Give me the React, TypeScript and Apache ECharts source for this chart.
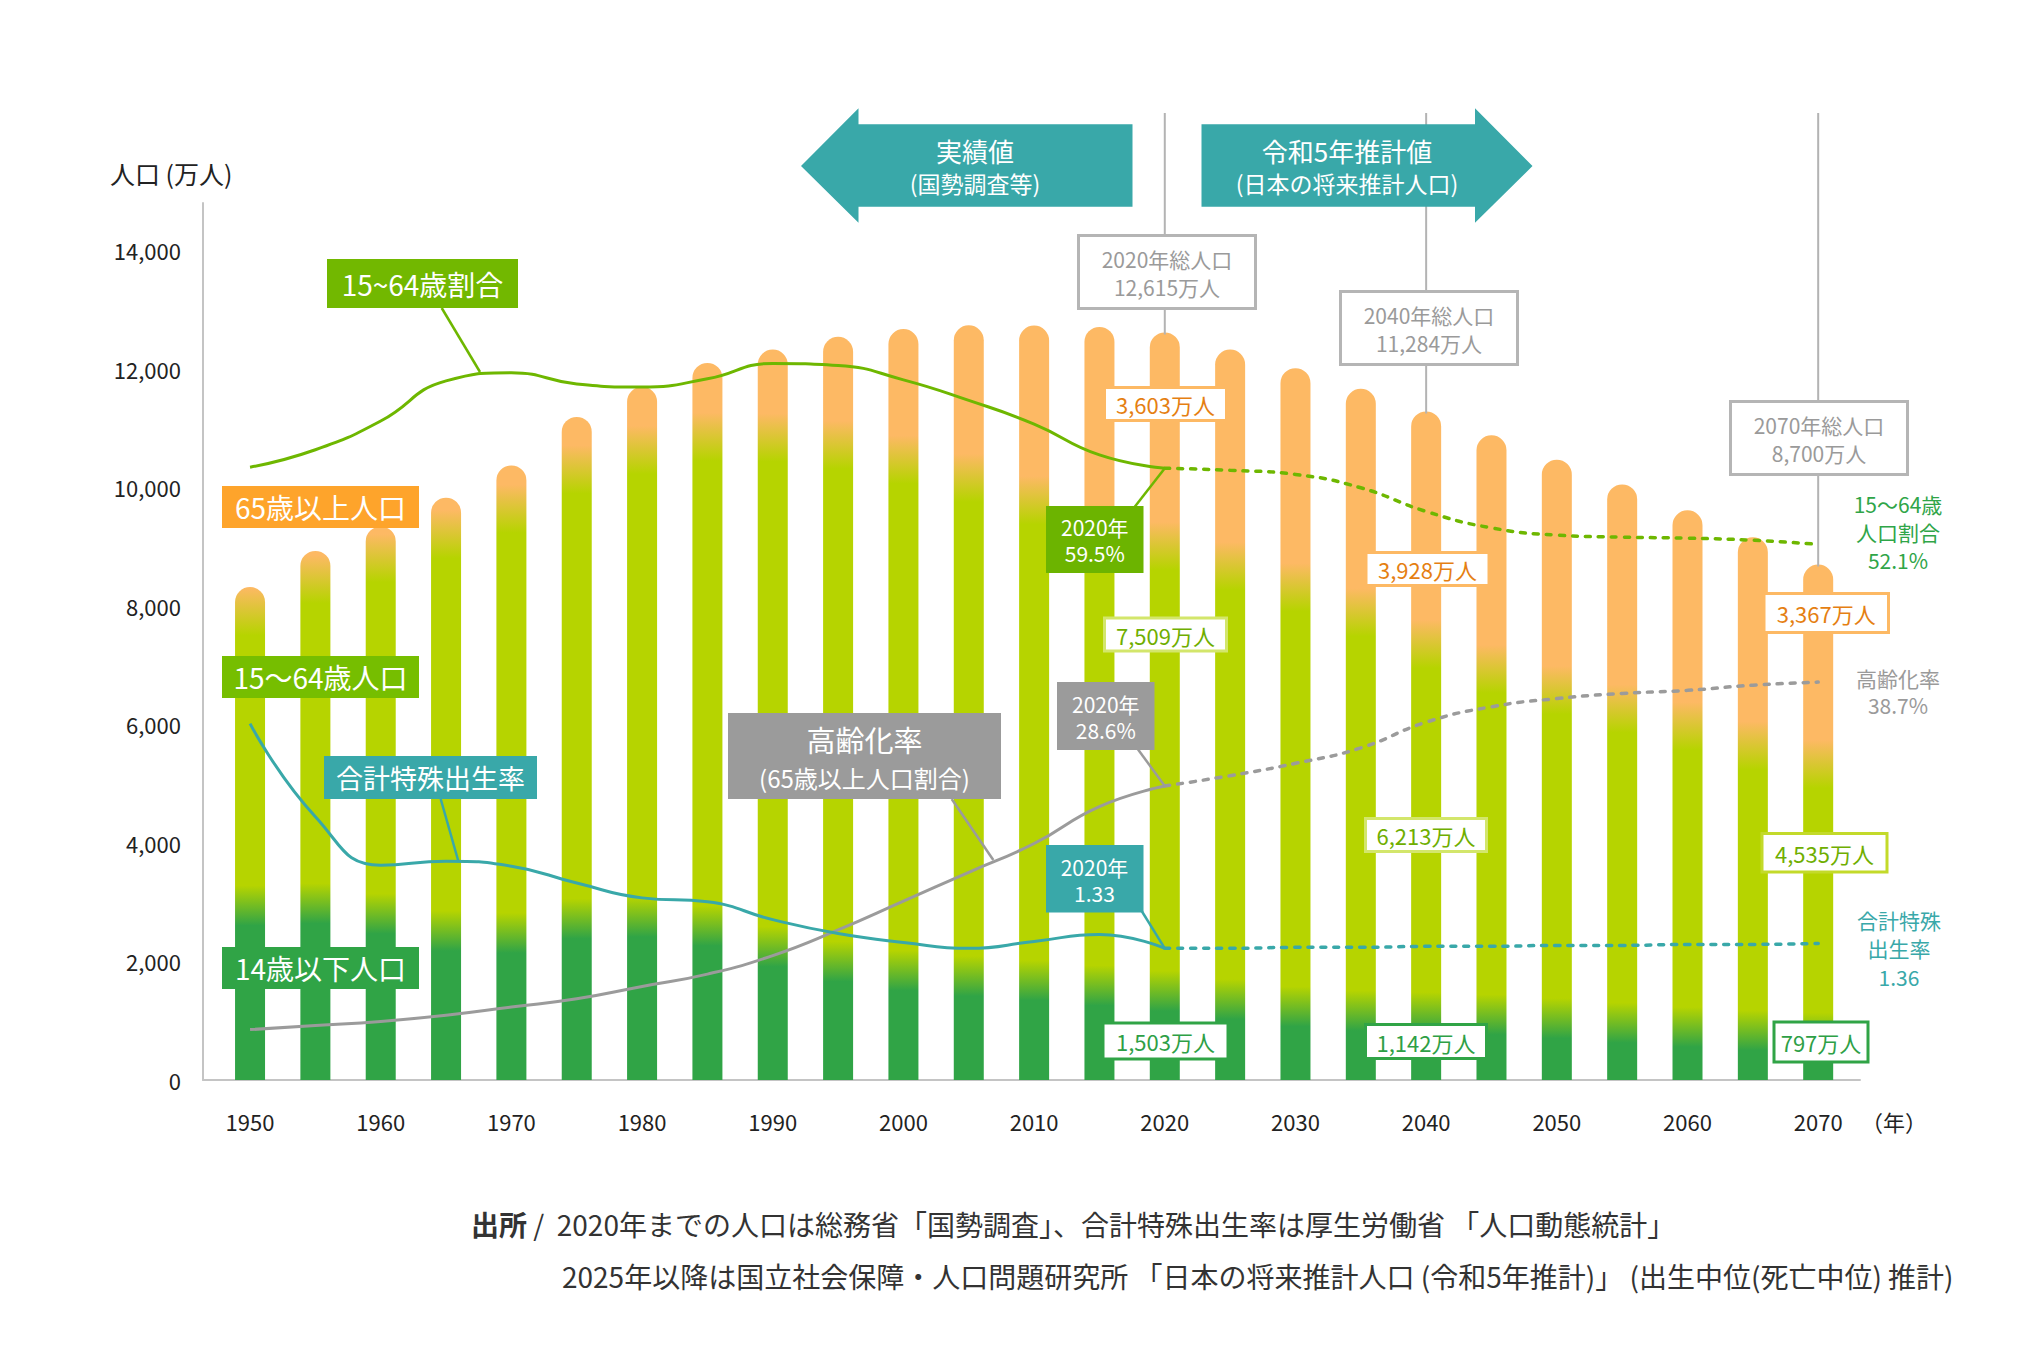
import React, { useEffect, useRef } from "react";
import * as echarts from "echarts";

// ---------- data ----------
const years = [1950, 1955, 1960, 1965, 1970, 1975, 1980, 1985, 1990, 1995, 2000, 2005, 2010, 2015, 2020,
  2025, 2030, 2035, 2040, 2045, 2050, 2055, 2060, 2065, 2070];
const pop0to14 = [2943, 2980, 2807, 2517, 2482, 2722, 2751, 2603, 2249, 2001, 1847, 1752, 1680, 1595, 1503,
  1363, 1240, 1169, 1142, 1103, 1041, 966, 893, 836, 797];
const pop15to64 = [4966, 5473, 6000, 6692, 7157, 7581, 7883, 8251, 8590, 8716, 8622, 8409, 8103, 7735, 7509,
  7310, 7076, 6722, 6213, 5832, 5540, 5302, 5078, 4809, 4535];
const pop65over = [411, 475, 535, 618, 733, 887, 1065, 1247, 1489, 1826, 2204, 2576, 2948, 3379, 3603,
  3653, 3696, 3773, 3928, 3945, 3888, 3783, 3644, 3513, 3367];

const actualYears = [1950, 1955, 1960, 1965, 1970, 1975, 1980, 1985, 1990, 1995, 2000, 2005, 2010, 2015, 2020];
const projYears = [2020, 2025, 2030, 2035, 2040, 2045, 2050, 2055, 2060, 2065, 2070];

const workingRatioActual = [59.6, 61.3, 64.1, 68.0, 68.8, 67.7, 67.4, 68.2, 69.7, 69.5, 68.1, 66.1, 63.8, 60.8, 59.5];
const workingRatioProj = [59.5, 59.3, 58.9, 57.6, 55.3, 53.7, 53.0, 52.8, 52.7, 52.5, 52.1];
const agingRateActual = [4.9, 5.3, 5.7, 6.3, 7.1, 7.9, 9.1, 10.3, 12.1, 14.6, 17.4, 20.2, 23.0, 26.6, 28.6];
const agingRateProj = [28.6, 29.6, 30.8, 32.3, 34.8, 36.3, 37.1, 37.6, 37.9, 38.4, 38.7];
const fertilityActual = [3.60, 2.66, 2.17, 2.21, 2.16, 1.99, 1.84, 1.80, 1.62, 1.48, 1.39, 1.33, 1.40, 1.47, 1.33];
const fertilityProj = [1.33, 1.33, 1.34, 1.34, 1.35, 1.35, 1.36, 1.36, 1.37, 1.37, 1.38];

const yTicks = [0, 2000, 4000, 6000, 8000, 10000, 12000, 14000];
const xTickYears = [1950, 1960, 1970, 1980, 1990, 2000, 2010, 2020, 2030, 2040, 2050, 2060, 2070];

// ---------- styles ----------
const F = "'Noto Sans CJK JP', 'Noto Sans', sans-serif";
const ORANGE = "#fdb964";
const LIME = "#b6d400";
const DGREEN = "#30a446";
const LINE_GREEN = "#6eb700";
const GRAY = "#9b9b9b";
const TEAL = "#39a8a9";

function txt(x: number, y: number, text: string, size: number, fill: string, extra: any = {}) {
  return {
    type: "text", x, y, z: 120,
    style: { text, fill, fontSize: size, fontFamily: F, align: "center", verticalAlign: "middle", ...extra },
  };
}
function box(x: number, y: number, w: number, h: number, fill: string, stroke?: string, lw = 3) {
  return {
    type: "rect", z: 110,
    shape: { x, y, width: w, height: h },
    style: { fill, stroke: stroke || null, lineWidth: stroke ? lw : 0 },
  };
}
function seg(x1: number, y1: number, x2: number, y2: number, color: string, w = 2.5, z = 105) {
  return { type: "line", z, shape: { x1, y1, x2, y2 }, style: { stroke: color, lineWidth: w } };
}

export default function App() {
  const ref = useRef<HTMLDivElement>(null);

  useEffect(() => {
    const chart = echarts.init(ref.current!, null, { renderer: "svg" });

    const barData = years.map((y, i) => [y, pop0to14[i], pop15to64[i], pop65over[i]]);
    const dotted = [5, 8];

    chart.setOption({
      animation: false,
      backgroundColor: "#ffffff",
      grid: { left: 203, right: 181, top: 203, bottom: 281, containLabel: false, outerBoundsMode: "none" },
      xAxis: {
        type: "value",
        min: 1946.4,
        max: 2073.2,
        axisLine: { show: true, onZero: false, lineStyle: { color: "#c4c4c4", width: 2 } },
        axisTick: { show: false },
        splitLine: { show: false },
        axisLabel: {
          customValues: xTickYears,
          color: "#222", fontSize: 22, fontFamily: F, margin: 30,
          formatter: (v: number) => String(v),
        },
      },
      yAxis: [
        {
          type: "value", min: 0, max: 14800, interval: 2000,
          axisLine: { show: true, onZero: false, lineStyle: { color: "#c4c4c4", width: 2 } },
          axisTick: { show: false },
          splitLine: { show: false },
          axisLabel: {
            customValues: yTicks,
            color: "#222", fontSize: 22, fontFamily: F, margin: 22,
            formatter: (v: number) => (v % 2000 === 0 ? v.toLocaleString("en-US") : ""),
          },
        },
        { type: "value", min: 0, max: 85.3, show: false, splitLine: { show: false } },
        { type: "value", min: 0, max: 8.86, show: false, splitLine: { show: false } },
      ],
      series: [
        {
          type: "custom",
          z: 2,
          data: barData,
          encode: { x: 0, y: 1 },
          renderItem: (params: any, api: any) => {
            const yr = api.value(0);
            const c = api.value(1), w = api.value(2), o = api.value(3);
            const base = api.coord([yr, 0]);
            const top = api.coord([yr, c + w + o]);
            const yCW = api.coord([yr, c])[1];
            const yWO = api.coord([yr, c + w])[1];
            const h = base[1] - top[1];
            const bw = 30;
            const f = (y: number) => Math.min(1, Math.max(0, (y - top[1]) / h));
            const d1 = 24, d2 = 20;
            const stops = [
              { offset: 0, color: ORANGE },
              { offset: f(yWO - d1), color: ORANGE },
              { offset: f(yWO + d1), color: LIME },
              { offset: f(yCW - d2), color: LIME },
              { offset: f(yCW + d2), color: DGREEN },
              { offset: 1, color: DGREEN },
            ];
            return {
              type: "rect",
              shape: { x: base[0] - bw / 2, y: top[1], width: bw, height: h, r: [bw / 2, bw / 2, 0, 0] },
              style: { fill: new echarts.graphic.LinearGradient(0, 0, 0, 1, stops) },
            };
          },
        },
        {
          type: "line", yAxisIndex: 1, z: 5, smooth: 0.5, showSymbol: false, silent: true,
          data: actualYears.map((y, i) => [y, workingRatioActual[i]]),
          lineStyle: { color: LINE_GREEN, width: 3 },
        },
        {
          type: "line", yAxisIndex: 1, z: 5, smooth: 0.5, showSymbol: false, silent: true,
          data: projYears.map((y, i) => [y, workingRatioProj[i]]),
          lineStyle: { color: LINE_GREEN, width: 3.5, type: dotted, cap: "round" },
        },
        {
          type: "line", yAxisIndex: 1, z: 5, smooth: 0.5, showSymbol: false, silent: true,
          data: actualYears.map((y, i) => [y, agingRateActual[i]]),
          lineStyle: { color: GRAY, width: 3 },
        },
        {
          type: "line", yAxisIndex: 1, z: 5, smooth: 0.5, showSymbol: false, silent: true,
          data: projYears.map((y, i) => [y, agingRateProj[i]]),
          lineStyle: { color: GRAY, width: 3.5, type: dotted, cap: "round" },
        },
        {
          type: "line", yAxisIndex: 2, z: 5, smooth: 0.5, showSymbol: false, silent: true,
          data: actualYears.map((y, i) => [y, fertilityActual[i]]),
          lineStyle: { color: TEAL, width: 3 },
        },
        {
          type: "line", yAxisIndex: 2, z: 5, smooth: 0.5, showSymbol: false, silent: true,
          data: projYears.map((y, i) => [y, fertilityProj[i]]),
          lineStyle: { color: TEAL, width: 3.5, type: dotted, cap: "round" },
        },
      ],
    });

    // pixel anchors derived from the chart's own scales
    const totalOf = (yr: number) => {
      const i = years.indexOf(yr);
      return pop0to14[i] + pop15to64[i] + pop65over[i];
    };
    const barTop = (yr: number) => chart.convertToPixel({ seriesIndex: 0 }, [yr, totalOf(yr)]) as number[];
    const pW = chart.convertToPixel({ seriesIndex: 1 }, [2020, workingRatioActual[14]]) as number[];
    const pA = chart.convertToPixel({ seriesIndex: 3 }, [2020, agingRateActual[14]]) as number[];
    const pT = chart.convertToPixel({ seriesIndex: 5 }, [2020, fertilityActual[14]]) as number[];

    const g: any[] = [];
    // vertical guide lines
    [2020, 2040, 2070].forEach((yr) => {
      const p = barTop(yr);
      g.push(seg(p[0], 113, p[0], p[1] + 2, "#b3b3b3", 2, 60));
    });

    // top arrows
    g.push({
      type: "polygon", z: 100,
      shape: { points: [[801, 166], [858.5, 108.3], [858.5, 124.3], [1132.5, 124.3], [1132.5, 206.7], [858.5, 206.7], [858.5, 222.7]] },
      style: { fill: TEAL },
    });
    g.push({
      type: "polygon", z: 100,
      shape: { points: [[1201.5, 124.3], [1475, 124.3], [1475, 108.3], [1532.5, 166], [1475, 222.7], [1475, 206.7], [1201.5, 206.7]] },
      style: { fill: TEAL },
    });
    g.push(txt(975, 150, "実績値", 26, "#fff"));
    g.push(txt(975, 183, "(国勢調査等)", 23, "#fff"));
    g.push(txt(1347, 150, "令和5年推計値", 26, "#fff"));
    g.push(txt(1347, 183, "(日本の将来推計人口)", 23, "#fff"));

    // total population boxes
    const totBox = (x: number, y: number, cx: number, l1: string, l2: string) => {
      g.push(box(x, y, 177, 73, "#fff", "#b5b5b5", 3));
      g.push(txt(cx, y + 23, l1, 21, "#9a9a9a"));
      g.push(txt(cx, y + 51, l2, 21, "#9a9a9a"));
    };
    totBox(1078.5, 235.5, 1167, "2020年総人口", "12,615万人");
    totBox(1340.5, 291.5, 1429, "2040年総人口", "11,284万人");
    totBox(1730.5, 401.5, 1819, "2070年総人口", "8,700万人");

    // value boxes
    const valBox = (x: number, y: number, w: number, h: number, text: string, stroke: string, color: string) => {
      g.push(box(x, y, w, h, "#fff", stroke, 3));
      g.push(txt(x + w / 2, y + h / 2, text, 22, color));
    };
    const OT = "#e57f12", LT = "#6fae00", GT = "#2e9f46";
    valBox(1104.5, 387.5, 122, 33, "3,603万人", ORANGE, OT);
    valBox(1104.5, 618, 122, 33, "7,509万人", "#d3e66b", LT);
    valBox(1103, 1023, 125, 36, "1,503万人", DGREEN, GT);
    valBox(1366, 552.5, 123, 33, "3,928万人", ORANGE, OT);
    valBox(1365.5, 818.5, 121, 33, "6,213万人", "#d3e66b", LT);
    valBox(1365.5, 1024.5, 121, 34, "1,142万人", DGREEN, GT);
    valBox(1764, 593.5, 124.5, 39, "3,367万人", ORANGE, OT);
    valBox(1762, 833.5, 125, 38.5, "4,535万人", "#c3da2a", LT);
    valBox(1774, 1022, 94, 40, "797万人", DGREEN, GT);

    // category labels
    g.push(seg(441.7, 308, 480, 372, LINE_GREEN));
    g.push(box(327, 259, 191, 49, "#72b800"));
    g.push(txt(422.5, 284, "15~64歳割合", 28, "#fff"));
    g.push(box(222, 486, 197, 42, "#fea42b"));
    g.push(txt(320.5, 507, "65歳以上人口", 28, "#fff"));
    g.push(box(222, 656, 197, 42, "#76be00"));
    g.push(txt(320.5, 677, "15〜64歳人口", 28, "#fff"));
    g.push(box(222, 947, 197, 42, DGREEN));
    g.push(txt(320.5, 968, "14歳以下人口", 28, "#fff"));
    g.push(seg(440.7, 799, 458.3, 861, TEAL));
    g.push(box(324, 756, 213, 43, TEAL));
    g.push(txt(430.5, 777.5, "合計特殊出生率", 27, "#fff"));
    g.push(seg(951.7, 799, 993.3, 860, GRAY));
    g.push(box(728, 713, 273, 86, GRAY));
    g.push(txt(864.5, 739, "高齢化率", 29, "#fff"));
    g.push(txt(864.5, 777, "(65歳以上人口割合)", 24, "#fff"));

    // 2020 callouts
    g.push(seg(1134.6, 507, pW[0], pW[1], LINE_GREEN));
    g.push(box(1046, 506, 97.5, 67, "#6cb400"));
    g.push(txt(1094.8, 527, "2020年", 21, "#fff"));
    g.push(txt(1094.8, 553, "59.5%", 21, "#fff"));
    g.push(seg(1137.7, 749, pA[0], pA[1], GRAY));
    g.push(box(1057, 682, 97.5, 68, GRAY));
    g.push(txt(1105.8, 703.5, "2020年", 21, "#fff"));
    g.push(txt(1105.8, 730, "28.6%", 21, "#fff"));
    g.push(seg(1141.7, 911, pT[0], pT[1], TEAL));
    g.push(box(1046, 845, 97.5, 67.5, TEAL));
    g.push(txt(1094.5, 866.7, "2020年", 21, "#fff"));
    g.push(txt(1094.5, 893.3, "1.33", 21, "#fff"));

    // right-side end labels
    g.push(txt(1898, 504, "15〜64歳", 21, "#2fa548"));
    g.push(txt(1898, 532, "人口割合", 21, "#2fa548"));
    g.push(txt(1898, 560, "52.1%", 21, "#2fa548"));
    g.push(txt(1898, 678, "高齢化率", 21, "#9a9a9a"));
    g.push(txt(1898, 705, "38.7%", 21, "#9a9a9a"));
    g.push(txt(1899, 920, "合計特殊", 21, TEAL));
    g.push(txt(1899, 948, "出生率", 21, TEAL));
    g.push(txt(1899, 977, "1.36", 21, TEAL));

    // axis titles
    g.push(txt(110, 173, "人口 (万人)", 25, "#222", { align: "left" }));
    g.push(txt(1894, 1121, "（年）", 22, "#222"));

    // source
    g.push({
      type: "text", x: 471, y: 1224, z: 120,
      style: {
        text: "{b|出所} /  2020年までの人口は総務省「国勢調査」、合計特殊出生率は厚生労働省 「人口動態統計」",
        fill: "#333", fontSize: 28, fontFamily: F, align: "left", verticalAlign: "middle",
        rich: { b: { fontWeight: "bold", fontSize: 28, fontFamily: F, fill: "#333" } },
      },
    });
    g.push(txt(562, 1276, "2025年以降は国立社会保障・人口問題研究所 「日本の将来推計人口 (令和5年推計)」 (出生中位(死亡中位) 推計)", 28, "#333", { align: "left" }));

    chart.setOption({ graphic: g });

    return () => chart.dispose();
  }, []);

  return (
    <div
      ref={ref}
      style={{ position: "fixed", left: 0, top: 0, width: 2041, height: 1361, background: "#fff" }}
    />
  );
}
